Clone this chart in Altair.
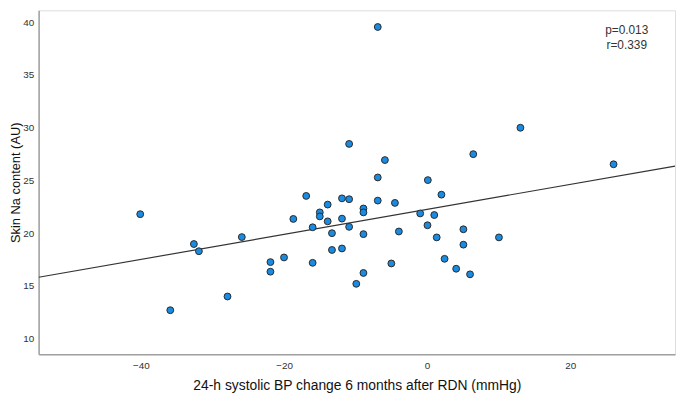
import altair as alt
import pandas as pd

# data
bp_change = [-40.1, -35.9, -32.6, -31.9, -27.9, -25.9, -21.9, -21.9, -20.0, -18.7,
             -16.9, -16.0, -16.0, -15.0, -15.0, -13.9, -13.9, -13.3, -13.3, -11.9,
             -11.9, -11.9, -10.9, -10.9, -10.9, -9.9, -8.9, -8.9, -8.9, -8.9,
             -6.9, -6.9, -6.9, -5.9, -5.0, -4.5, -3.95, -0.97, 0.1, 0.05,
             1.0, 1.34, 2.0, 2.44, 4.06, 5.07, 5.07, 6.0, 6.45, 10.04,
             13.04, 26.06]
skin_na = [21.8, 12.7, 18.97, 18.29, 14.0, 19.63, 17.26, 16.35, 17.7, 21.35,
           23.53, 20.56, 17.19, 21.97, 21.59, 22.71, 21.12, 20.0, 18.41, 23.3,
           21.38, 18.55, 28.46, 23.22, 20.6, 15.2, 22.34, 21.97, 19.91, 16.23,
           39.54, 25.28, 23.09, 26.93, 17.13, 22.87, 20.16, 21.87, 25.03, 20.75,
           21.72, 19.6, 23.65, 17.57, 16.63, 20.37, 18.91, 16.1, 27.49, 19.6,
           29.99, 26.53]

fit_x = [-54.3, 34.65]
fit_y = [15.82, 26.36]

stat_labels = ["p=0.013", "r=0.339"]
stat_y = [39.25, 37.85]

x_domain = [-54.3, 34.65]
y_domain = [8.53, 41.12]

pts = pd.DataFrame({"x": bp_change, "y": skin_na})
fit = pd.DataFrame({"x": fit_x, "y": fit_y})
ann = pd.DataFrame({"t": stat_labels, "y": stat_y, "x": [27.9, 27.9]})

FONT = "Liberation Sans"

xs = alt.Scale(domain=x_domain, nice=False, zero=False)
ys = alt.Scale(domain=y_domain, nice=False, zero=False)

xaxis = alt.Axis(title="24-h systolic BP change 6 months after RDN (mmHg)",
                 values=[-40, -20, 0, 20], ticks=False, grid=False,
                 domainColor="#a0a0a0", domainWidth=1.5,
                 labelFont=FONT, labelFontSize=10, labelColor="#333333",
                 labelPadding=6, titleFont=FONT, titleFontSize=14,
                 titleFontWeight="normal", titleColor="#111111", titlePadding=9)
yaxis = alt.Axis(title="Skin Na content (AU)",
                 values=[10, 15, 20, 25, 30, 35, 40], ticks=False, grid=False,
                 domainColor="#a0a0a0", domainWidth=1.5,
                 labelFont=FONT, labelFontSize=10, labelColor="#333333",
                 labelPadding=5, titleFont=FONT, titleFontSize=13,
                 titleFontWeight="normal", titleColor="#111111", titlePadding=0)

line = alt.Chart(fit).mark_line(color="#333333", strokeWidth=1.2, clip=True).encode(
    x=alt.X("x:Q", scale=xs, axis=xaxis),
    y=alt.Y("y:Q", scale=ys, axis=yaxis),
)

points = alt.Chart(pts).mark_point(
    shape="circle", filled=True, size=48, fill="#1a8be0", stroke="#2a2a2a",
    strokeWidth=1, opacity=1
).encode(x=alt.X("x:Q", scale=xs), y=alt.Y("y:Q", scale=ys))

text = alt.Chart(ann).mark_text(font=FONT, fontSize=12, color="#333333",
                                align="center", baseline="middle").encode(
    x=alt.X("x:Q", scale=xs), y=alt.Y("y:Q", scale=ys), text="t:N")

chart = alt.layer(line, points, text).properties(
    width=644, height=348,
    autosize=alt.AutoSizeParams(type="none"),
    padding={"left": 31, "top": 0, "right": 2, "bottom": 45},
).configure_view(stroke=None).configure(background="white")

chart.save("out.html", embed_options={"renderer": "svg", "actions": False})
